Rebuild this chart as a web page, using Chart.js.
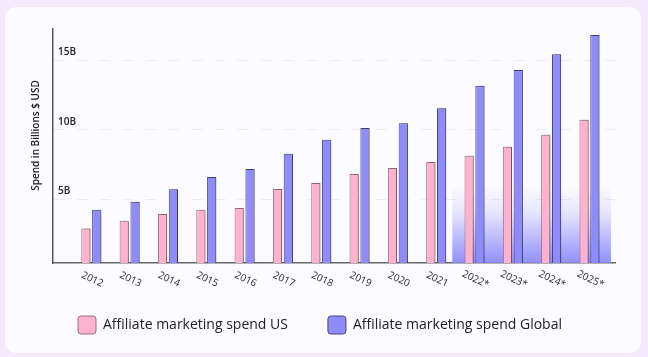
<!DOCTYPE html>
<html>
<head>
<meta charset="utf-8">
<script src="https://cdn.jsdelivr.net/npm/chart.js@4"></script>
<style>
  html, body { margin: 0; padding: 0; width: 648px; height: 357px; background: #f3ebfd; overflow: hidden; }
  #card { position: absolute; left: 5px; top: 7px; width: 636px; height: 346px; background: #fcfbff; border-radius: 12px; }
  #wrap { position: absolute; left: 0; top: 0; width: 648px; height: 357px; }
</style>
</head>
<body>
<div id="card"></div>
<div id="wrap"><canvas id="c"></canvas></div>
<script>
const years = ['2012','2013','2014','2015','2016','2017','2018','2019','2020','2021','2022*','2023*','2024*','2025*'];
const usSpend = [2.88, 3.45, 3.94, 4.24, 4.37, 5.73, 6.17, 6.81, 7.24, 7.68, 8.13, 8.78, 9.64, 10.72];
const globalSpend = [4.24, 4.82, 5.71, 6.60, 7.17, 8.27, 9.28, 10.14, 10.48, 11.56, 13.17, 14.32, 15.45, 16.83];
const yTicks = [5, 10, 15];
const seriesNames = ['Affiliate marketing spend US', 'Affiliate marketing spend Global'];
const yTitle = 'Spend in Billions $ USD';
const forecastFrom = 9.42, forecastTo = 13.56, forecastTop = 6;

const FONT = '"Open Sans", "Noto Sans", sans-serif';

const shadeAndShadow = {
  id: 'shadeAndShadow',
  beforeDatasetsDraw(chart) {
    const {ctx, chartArea, scales: {x, y}} = chart;
    const l = x.getPixelForValue(forecastFrom), r = x.getPixelForValue(forecastTo);
    const t = y.getPixelForValue(forecastTop), b = chartArea.bottom;
    const g = ctx.createLinearGradient(0, t, 0, b);
    g.addColorStop(0, 'rgba(140,137,250,0)');
    g.addColorStop(0.35, 'rgba(140,137,250,0.18)');
    g.addColorStop(1, 'rgba(140,137,250,0.95)');
    ctx.save();
    ctx.fillStyle = g;
    ctx.fillRect(l, t, r - l, b - t);
    ctx.restore();
    ctx.save();
    ctx.shadowColor = 'rgba(0,0,0,0.25)';
    ctx.shadowOffsetX = 2.5;
    ctx.shadowOffsetY = -0.5;
    ctx.shadowBlur = 1;
  },
  afterDatasetsDraw(chart) {
    chart.ctx.restore();
  },
  afterDraw(chart) {
    const {ctx, chartArea, scales: {x}} = chart;
    ctx.save();
    ctx.font = '10px ' + FONT;
    ctx.fillStyle = '#2a2a2a';
    ctx.textAlign = 'center';
    ctx.textBaseline = 'middle';
    years.forEach((lab, i) => {
      const px = x.getPixelForValue(i);
      ctx.save();
      ctx.translate(px + 1, chartArea.bottom + 16.5);
      ctx.rotate(25 * Math.PI / 180);
      ctx.fillText(lab, 0, 0);
      ctx.restore();
    });
    // y axis title
    ctx.font = '600 10px ' + FONT;
    ctx.fillStyle = '#222';
    ctx.save();
    ctx.translate(chartArea.left - 16.5, chartArea.top + (chartArea.bottom - chartArea.top) * 0.455);
    ctx.rotate(-Math.PI / 2);
    ctx.fillText(yTitle, 0, 0);
    ctx.restore();
    ctx.restore();
  }
};

new Chart(document.getElementById('c'), {
  type: 'bar',
  data: {
    labels: years,
    datasets: [
      { label: seriesNames[0], data: usSpend, backgroundColor: '#ffb2cd', borderColor: '#93707f', borderWidth: 1 },
      { label: seriesNames[1], data: globalSpend, backgroundColor: '#8e8bfb', borderColor: '#46437a', borderWidth: 1 }
    ]
  },
  options: {
    responsive: true,
    maintainAspectRatio: false,
    animation: false,
    categoryPercentage: 0.565,
    barPercentage: 0.85,
    layout: { padding: { left: 25, right: 33, top: 29, bottom: 13 } },
    plugins: {
      legend: {
        position: 'bottom',
        labels: {
          font: { family: FONT, size: 14 },
          color: '#222',
          boxWidth: 18,
          boxHeight: 18,
          padding: 40,
          useBorderRadius: true,
          borderRadius: 3
        }
      },
      tooltip: { enabled: false }
    },
    scales: {
      x: {
        type: 'category',
        grid: { display: false },
        border: { display: true, color: '#666', width: 1.5 },
        ticks: { display: false },
        afterBuildTicks: (s) => { s._startValue = -1; s._valueRange = 14.666; },
        afterFit: (s) => { s.height = 13; }
      },
      y: {
        min: 0.4,
        max: 17.27,
        afterBuildTicks: (s) => { s.ticks = yTicks.map(v => ({ value: v })); },
        afterFit: (s) => { s.width = 28; },
        grid: { color: '#ececf3', lineWidth: 1, drawTicks: false },
        border: { display: true, color: '#555', width: 1.5, dash: [11, 12] },
        ticks: {
          mirror: true,
          padding: 5,
          labelOffset: -8,
          color: '#222',
          font: { family: FONT, size: 10, weight: '600' },
          callback: (v) => v + 'B'
        },
        title: { display: false }
      }
    }
  },
  plugins: [shadeAndShadow]
});
</script>
</body>
</html>
